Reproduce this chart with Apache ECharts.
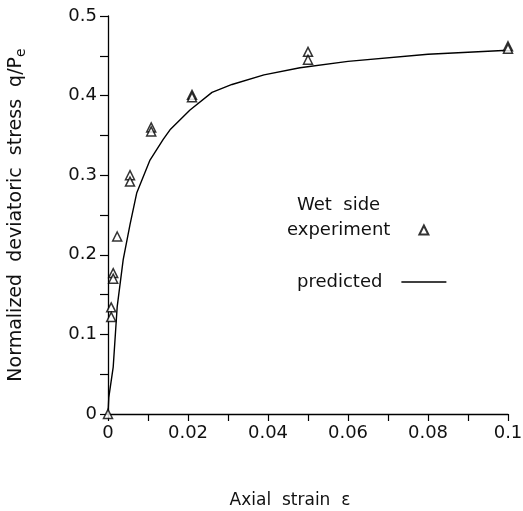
<!DOCTYPE html>
<html>
<head>
<meta charset="utf-8">
<script src="https://cdn.jsdelivr.net/npm/echarts@6/dist/echarts.min.js"></script>
<style>
  html, body { margin: 0; padding: 0; background: #fff; }
  #chart { width: 523px; height: 511px; }
</style>
</head>
<body>
<div id="chart"></div>
<script>
// experiment points (wet side)
var expX = [0, 0.0008, 0.0008, 0.0013, 0.0013, 0.0023, 0.0055, 0.0055, 0.0108, 0.0108, 0.021, 0.021, 0.05, 0.05, 0.1, 0.1];
var expY = [0, 0.134, 0.122, 0.177, 0.17, 0.223, 0.3, 0.292, 0.36, 0.355, 0.401, 0.398, 0.455, 0.445, 0.462, 0.459];

// predicted curve
var predX = [0, 0.0002, 0.0013, 0.0023, 0.0038, 0.0055, 0.0072, 0.0105, 0.0138, 0.0155, 0.0205, 0.026, 0.031, 0.039, 0.048, 0.06, 0.08, 0.1];
var predY = [0, 0.021, 0.059, 0.135, 0.194, 0.238, 0.278, 0.319, 0.345, 0.357, 0.382, 0.404, 0.414, 0.426, 0.435, 0.443, 0.452, 0.457];

var xTicks = [0, 0.02, 0.04, 0.06, 0.08, 0.1];
var yTicks = [0, 0.1, 0.2, 0.3, 0.4, 0.5];

var font = "DejaVu Sans";
var ink = "#111";

function pairs(xs, ys) {
    return xs.map(function (x, i) { return [x, ys[i]]; });
}

function onTick(v, list) {
    for (var i = 0; i < list.length; i++) {
        if (Math.abs(v - list[i]) < 1e-9) return String(list[i]);
    }
    return "";
}

var chart = echarts.init(document.getElementById("chart"));

var option = {
    backgroundColor: "#fff",
    animation: false,
    grid: {
        left: 108,
        top: 16,
        width: 400,
        height: 398,
        containLabel: false,
        outerBoundsMode: "none"
    },
    graphic: [
        {
            type: "text",
            left: 297,
            top: 196,
            style: {
                text: "Wet  side",
                font: "18px " + font,
                fill: ink
            }
        }
    ],
    legend: [
        {
            data: ["experiment"],
            left: 282,
            top: 216,
            align: "right",
            itemWidth: 9,
            itemHeight: 9,
            textStyle: {
                fontFamily: font,
                fontSize: 18,
                color: ink,
                padding: [0, 24, 0, 0]
            }
        },
        {
            data: [{ name: "predicted", icon: "rect" }],
            left: 292,
            top: 268,
            align: "right",
            itemWidth: 45,
            itemHeight: 1.5,
            textStyle: {
                fontFamily: font,
                fontSize: 18,
                color: ink,
                padding: [0, 14, 0, 0]
            }
        }
    ],
    xAxis: {
        type: "value",
        min: 0,
        max: 0.1,
        interval: 0.01,
        name: "Axial  strain  ε",
        nameLocation: "middle",
        nameGap: 78,
        nameTextStyle: {
            fontFamily: font,
            fontSize: 17,
            color: ink,
            padding: [0, 36, 0, 0]
        },
        axisLine: { lineStyle: { color: "#000", width: 1.3 } },
        axisTick: { inside: false, length: 7, lineStyle: { color: "#000", width: 1.2 } },
        splitLine: { show: false },
        axisLabel: {
            margin: 10,
            fontFamily: font,
            fontSize: 18,
            color: ink,
            formatter: function (v) { return onTick(v, xTicks); }
        }
    },
    yAxis: {
        type: "value",
        min: 0,
        max: 0.5,
        interval: 0.05,
        name: "Normalized  deviatoric  stress  q/P{sub|e}",
        nameLocation: "middle",
        nameRotate: 90,
        nameGap: 80,
        nameTextStyle: {
            fontFamily: font,
            fontSize: 19,
            color: ink,
            rich: {
                sub: {
                    fontFamily: font,
                    fontSize: 14,
                    color: ink,
                    padding: [10, 0, 0, 0]
                }
            }
        },
        axisLine: { lineStyle: { color: "#000", width: 1.3 } },
        axisTick: { inside: false, length: 8, lineStyle: { color: "#000", width: 1.2 } },
        splitLine: { show: false },
        axisLabel: {
            margin: 11,
            fontFamily: font,
            fontSize: 18,
            color: ink,
            formatter: function (v) { return onTick(v, yTicks); }
        }
    },
    series: [
        {
            name: "experiment",
            type: "scatter",
            symbol: "triangle",
            symbolSize: 9,
            itemStyle: { color: "#fff", borderColor: "#000", borderWidth: 1.5 },
            data: pairs(expX, expY),
            z: 3
        },
        {
            name: "predicted",
            type: "line",
            showSymbol: false,
            symbol: "none",
            smooth: false,
            lineStyle: { color: "#000", width: 1.4 },
            itemStyle: { color: "#000" },
            data: pairs(predX, predY),
            z: 2
        }
    ]
};

chart.setOption(option);
</script>
</body>
</html>
